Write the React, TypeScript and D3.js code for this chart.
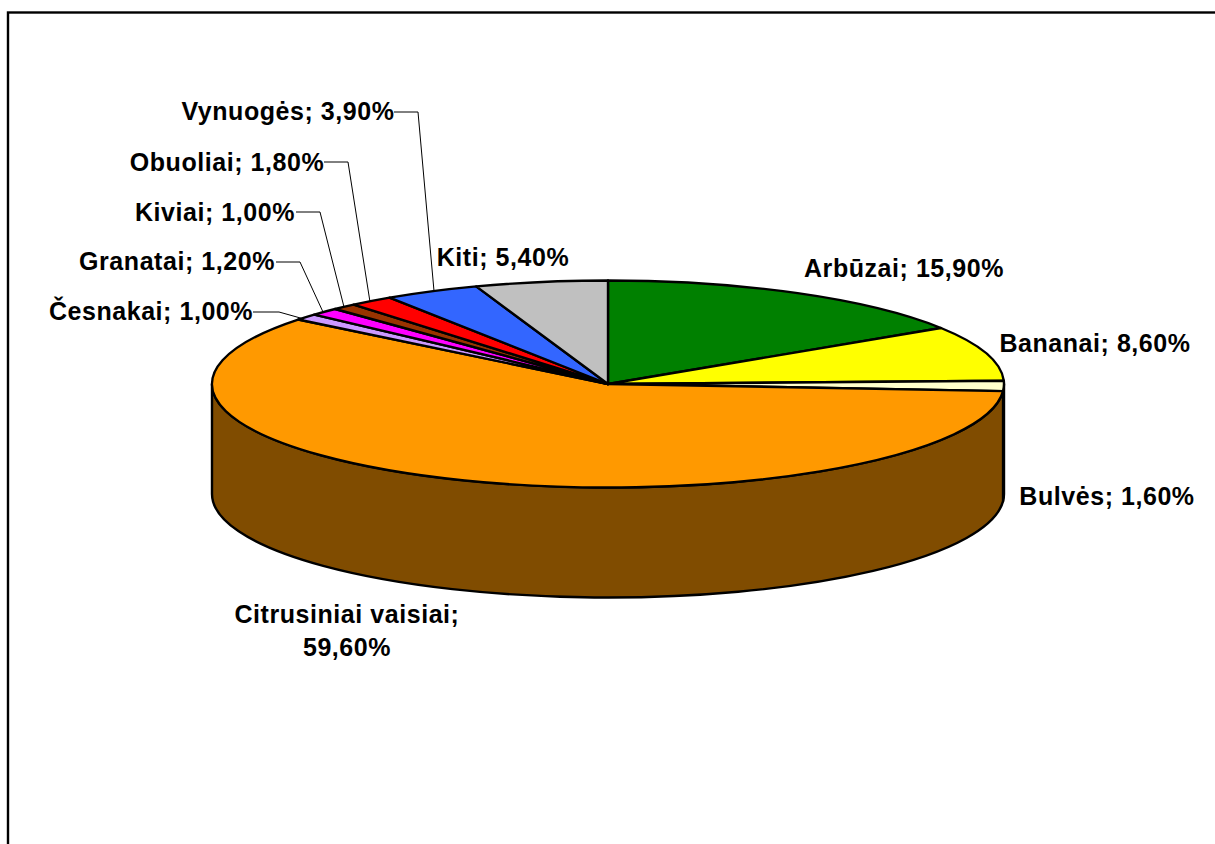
import React from "react";
import * as d3 from "d3";

const categories = ["Arbūzai", "Bananai", "Bulvės", "Citrusiniai vaisiai", "Česnakai", "Granatai", "Kiviai", "Obuoliai", "Vynuogės", "Kiti"];
const values = [15.9, 8.6, 1.6, 59.6, 1.0, 1.2, 1.0, 1.8, 3.9, 5.4];
const topColors = ["#008000", "#FFFF00", "#FFFFCC", "#FF9900", "#CC99FF", "#FF00FF", "#993300", "#FF0000", "#3366FF", "#C0C0C0"];
const sideColors = ["#004000", "#808000", "#808066", "#804C00", "#664C80", "#800080", "#4C1900", "#800000", "#1A3380", "#606060"];
const labelLines = [
  ["Arbūzai; 15,90%"], ["Bananai; 8,60%"], ["Bulvės; 1,60%"], ["Citrusiniai vaisiai;", "59,60%"],
  ["Česnakai; 1,00%"], ["Granatai; 1,20%"], ["Kiviai; 1,00%"], ["Obuoliai; 1,80%"], ["Vynuogės; 3,90%"], ["Kiti; 5,40%"],
];
const labelPos: [number, number, string][] = [
  [904, 277, "middle"], [1095, 352, "middle"], [1107, 505, "middle"], [347, 623, "middle"],
  [151, 320, "middle"], [177, 270, "middle"], [215, 221, "middle"], [227, 171, "middle"], [288, 120, "middle"], [503, 266, "middle"],
];
const leaders: ([number, number][] | null)[] = [
  null, null, null, null,
  [[253, 312], [279, 312], [304, 319]],
  [[276, 262], [300, 262], [323, 312]],
  [[296, 212], [320, 212], [344, 307]],
  [[324, 162], [348, 162], [370, 302]],
  [[394, 112], [418, 112], [434, 291]],
  null,
];

const cx = 608, cy = 384, rx = 396, ry = 103.5, depth = 110;
const pieGen = d3.pie<number>().sort(null).value((d) => d);
const arcGen = d3.arc<d3.PieArcDatum<number>>().innerRadius(0).outerRadius(rx);
const lineGen = d3.line();

function sidePath(a0: number, a1: number): string | null {
  const s = Math.max(a0, Math.PI / 2);
  const e = Math.min(a1, (3 * Math.PI) / 2);
  if (e <= s) return null;
  const pt = (a: number): [number, number] => [cx + rx * Math.sin(a), cy - ry * Math.cos(a)];
  const [x0, y0] = pt(s);
  const [x1, y1] = pt(e);
  return `M${x0},${y0} A${rx},${ry} 0 0 1 ${x1},${y1} L${x1},${y1 + depth} A${rx},${ry} 0 0 0 ${x0},${y0 + depth} Z`;
}

export default function App() {
  const arcs = pieGen(values);
  return (
    <svg width={1215} height={844} style={{ position: "absolute", left: 0, top: 0, background: "#fff" }}>
      <rect x={8} y={12.5} width={1260} height={900} fill="#fff" stroke="#000" strokeWidth={2.4} />
      {arcs.map((a, i) => {
        const d = sidePath(a.startAngle, a.endAngle);
        return d ? <path key={i} d={d} fill={sideColors[i]} stroke="#000" strokeWidth={2.4} strokeLinejoin="round" /> : null;
      })}
      <g transform={`translate(${cx},${cy}) scale(1,${ry / rx})`}>
        {arcs.map((a, i) => (
          <path key={i} d={arcGen(a) as string} fill={topColors[i]} stroke="#000" strokeWidth={2.4} vectorEffect="non-scaling-stroke" strokeLinejoin="round" />
        ))}
      </g>
      {leaders.map((l, i) => l && <path key={i} d={lineGen(l) as string} fill="none" stroke="#000" strokeWidth={1} />)}
      {categories.map((c, i) => (
        <text key={c} x={labelPos[i][0]} y={labelPos[i][1]} textAnchor={labelPos[i][2] as any}
          fontFamily="'Liberation Sans', Arial, sans-serif" fontWeight="bold" fontSize={25} letterSpacing={0.55} fill="#000">
          {labelLines[i].map((t, j) => (
            <tspan key={j} x={labelPos[i][0]} dy={j === 0 ? 0 : 33}>{t}</tspan>
          ))}
        </text>
      ))}
    </svg>
  );
}
